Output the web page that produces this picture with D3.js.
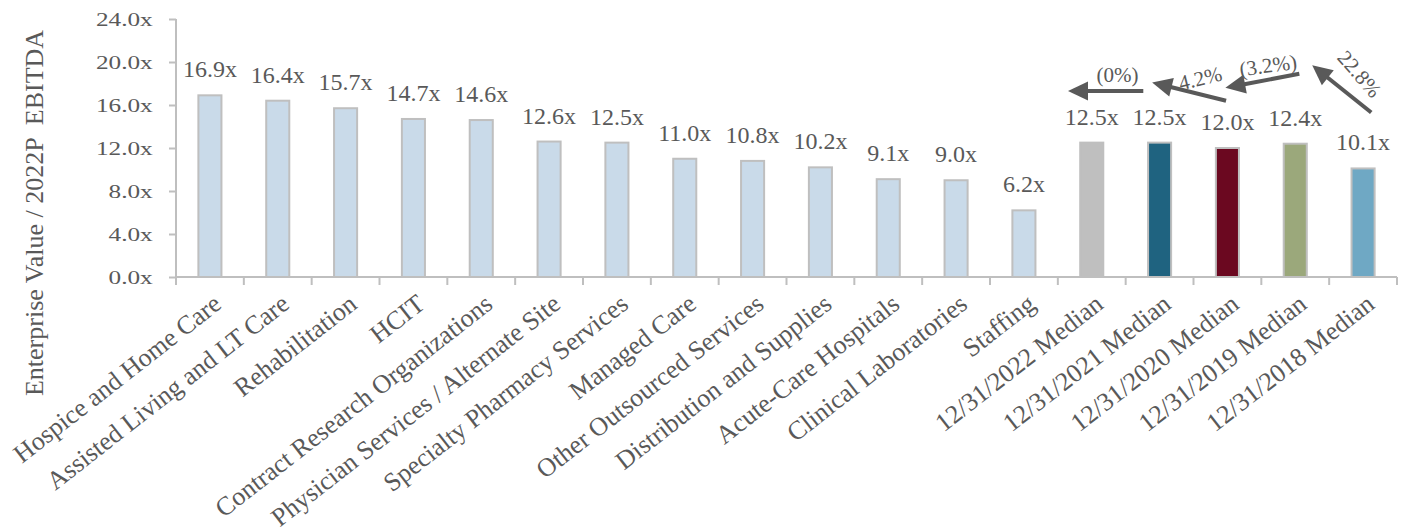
<!DOCTYPE html>
<html>
<head>
<meta charset="utf-8">
<script src="https://cdn.jsdelivr.net/npm/d3@7"></script>
<style>
  html, body { margin: 0; padding: 0; background: #ffffff; }
  svg { display: block; font-family: "Liberation Serif", "Times New Roman", serif; }
</style>
</head>
<body>
<svg id="chart" width="1408" height="531"></svg>
<script>
// ---- data ----
const categories = [
  "Hospice and Home Care", "Assisted Living and LT Care", "Rehabilitation", "HCIT",
  "Contract Research Organizations", "Physician Services / Alternate Site",
  "Specialty Pharmacy Services", "Managed Care", "Other Outsourced Services",
  "Distribution and Supplies", "Acute-Care Hospitals", "Clinical Laboratories", "Staffing",
  "12/31/2022 Median", "12/31/2021 Median", "12/31/2020 Median", "12/31/2019 Median", "12/31/2018 Median"
];
const values = [16.9, 16.4, 15.7, 14.7, 14.6, 12.6, 12.5, 11.0, 10.8, 10.2, 9.1, 9.0, 6.2, 12.5, 12.5, 12.0, 12.4, 10.1];
const yTicks = [0, 4, 8, 12, 16, 20, 24];
const yTitle = "Enterprise Value / 2022P  EBITDA";
const changeLabels = ["(0%)", "4.2%", "(3.2%)", "22.8%"];

// ---- styles (kept apart from data) ----
const sectorColor = "#c9dae9";
const medianColors = {
  "12/31/2022 Median": "#bfbfbf",
  "12/31/2021 Median": "#1f6380",
  "12/31/2020 Median": "#6b0820",
  "12/31/2019 Median": "#9ba87b",
  "12/31/2018 Median": "#6fa8c4"
};
const textColor = "#595959";
const axisColor = "#bfbfbf";

// annotation anchors in data space: [category, offset in band steps, value]
const arrowFrom = [["12/31/2021 Median", -0.24, 17.3], ["12/31/2020 Median", -0.02, 16.4], ["12/31/2019 Median", 0.06, 18.9], ["12/31/2018 Median", 0.12, 15.3]];
const arrowTo   = [["12/31/2022 Median", -0.35, 17.3], ["12/31/2021 Median", -0.11, 18.1], ["12/31/2020 Median", -0.03, 17.6], ["12/31/2019 Median", 0.25, 19.7]];
const labelAt   = [["12/31/2022 Median", 0.38, 18.8, 0], ["12/31/2021 Median", 0.6, 18.5, -14], ["12/31/2019 Median", -0.4, 19.7, -8], ["12/31/2018 Median", -0.05, 18.9, 49]];

// ---- scales ----
const svg = d3.select("#chart");
const x = d3.scaleBand().domain(categories).range([176, 1397]).paddingInner(0.66).paddingOuter(0.33);
const y = d3.scaleLinear().domain([0, 24]).range([277, 19]);
const bw = x.bandwidth();
const step = x.step();
const cx = c => x(c) + bw / 2;
const px = p => cx(p[0]) + p[1] * step;
const py = p => y(p[2]);

// ---- y axis ----
const yAxis = svg.append("g").attr("transform", `translate(${x.range()[0]},0)`)
  .call(d3.axisLeft(y).tickValues(yTicks).tickSize(7).tickFormat(d => d3.format(".1f")(d) + "x"));
yAxis.select(".domain").attr("stroke", axisColor).attr("stroke-width", 2).attr("d", `M0,${y(0)}V${y(24)}`);
yAxis.selectAll(".tick line").attr("stroke", axisColor).attr("stroke-width", 2);
yAxis.selectAll(".tick text")
  .attr("x", -17.5).attr("dy", "0.34em")
  .attr("transform", "scale(1.33,1)")
  .attr("fill", textColor).style("font-size", "19px")
  .style("font-family", '"Liberation Serif", serif');

// ---- bars ----
svg.append("g").selectAll("rect").data(categories).join("rect")
  .attr("x", d => x(d)).attr("y", (d, i) => y(values[i]))
  .attr("width", bw).attr("height", (d, i) => y(0) - y(values[i]))
  .attr("fill", d => medianColors[d] || sectorColor)
  .attr("stroke", axisColor).attr("stroke-width", 2);

// ---- x axis line & ticks at category boundaries ----
const xa = svg.append("g");
xa.append("line").attr("x1", x.range()[0]).attr("x2", x.range()[1]).attr("y1", y(0)).attr("y2", y(0))
  .attr("stroke", axisColor).attr("stroke-width", 2);
const bounds = categories.map(c => x(c) - (step - bw) / 2).concat([x.range()[1]]);
xa.selectAll("line.tk").data(bounds).join("line").attr("class", "tk")
  .attr("x1", d => d).attr("x2", d => d).attr("y1", y(0)).attr("y2", y(0) + 8)
  .attr("stroke", axisColor).attr("stroke-width", 2);

// ---- x labels ----
svg.append("g").selectAll("text").data(categories).join("text")
  .attr("transform", d => `translate(${cx(d) + 13},307) rotate(-38)`)
  .attr("text-anchor", "end").attr("fill", textColor).style("font-size", "26px")
  .text(d => d);

// ---- value labels ----
svg.append("g").selectAll("text").data(categories).join("text")
  .attr("x", d => cx(d)).attr("y", (d, i) => y(values[i]) - 18)
  .attr("text-anchor", "middle").attr("fill", textColor).style("font-size", "24px")
  .text((d, i) => d3.format(".1f")(values[i]) + "x");

// ---- y title ----
svg.append("text")
  .attr("transform", "translate(43,213) rotate(-90)")
  .attr("text-anchor", "middle").attr("fill", textColor).style("font-size", "26px")
  .attr("xml:space", "preserve").style("white-space", "pre")
  .text(yTitle);

// ---- change arrows ----
const ag = svg.append("g");
arrowFrom.forEach((f, i) => {
  const t = arrowTo[i];
  const x1 = px(f), y1 = py(f), x2 = px(t), y2 = py(t);
  const ang = Math.atan2(y2 - y1, x2 - x1);
  const hl = 20, hw = 9.5;
  const bx = x2 - hl * Math.cos(ang), by = y2 - hl * Math.sin(ang);
  ag.append("line").attr("x1", x1).attr("y1", y1).attr("x2", bx + 2 * Math.cos(ang)).attr("y2", by + 2 * Math.sin(ang))
    .attr("stroke", textColor).attr("stroke-width", 4);
  const nx = -Math.sin(ang), ny = Math.cos(ang);
  ag.append("path")
    .attr("d", `M${x2},${y2}L${bx + nx * hw},${by + ny * hw}L${bx - nx * hw},${by - ny * hw}Z`)
    .attr("fill", textColor);
});
ag.selectAll("text").data(changeLabels).join("text")
  .attr("transform", (d, i) => `translate(${px(labelAt[i])},${py(labelAt[i])}) rotate(${labelAt[i][3]})`)
  .attr("text-anchor", "middle").attr("dy", "0.35em")
  .attr("fill", textColor).style("font-size", "21px")
  .text(d => d);
</script>
</body>
</html>
